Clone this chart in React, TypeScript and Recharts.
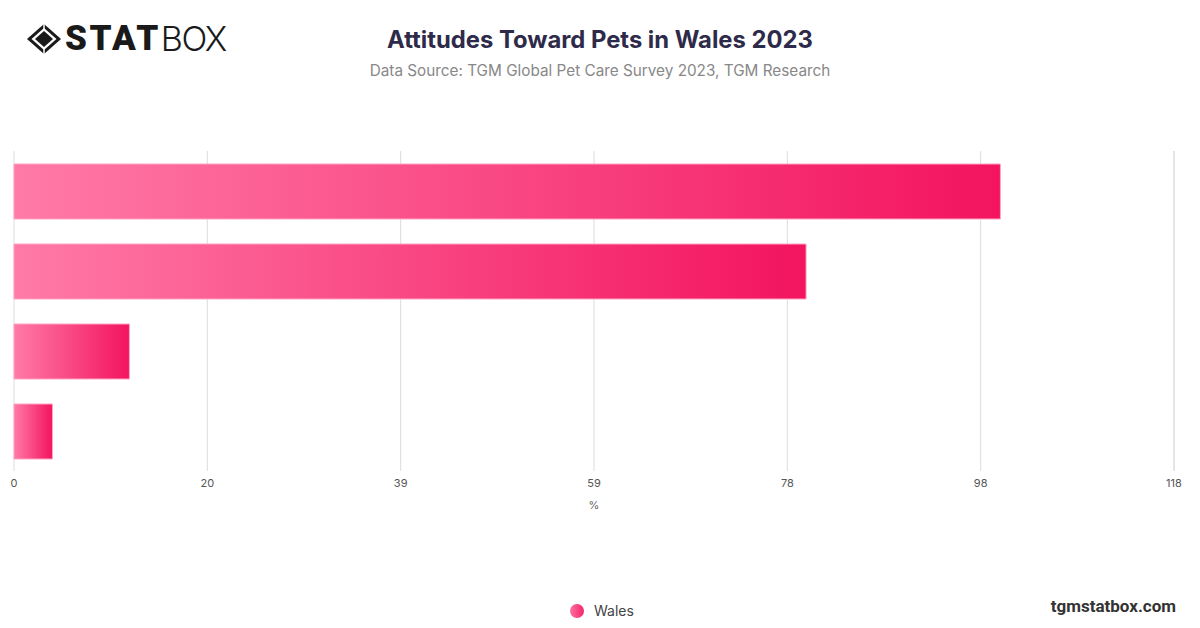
import React from "react";
import { BarChart, Bar, XAxis, YAxis, CartesianGrid } from "recharts";

const categories = ["Attitude A", "Attitude B", "Attitude C", "Attitude D"];
const walesValues = [100, 80.3, 11.7, 3.9];
const axisMax = 117.6;
const xTicks = [0, 1, 2, 3, 4, 5, 6].map((i) => (axisMax * i) / 6);
const seriesName = "Wales";

const data = categories.map((c, i) => ({ category: c, value: walesValues[i] }));

const Logo = () => (
  <div style={{ position: "absolute", left: 26, top: 22, display: "flex", alignItems: "center", height: 34 }}>
    <svg width="36" height="32" viewBox="0 0 36 32" style={{ display: "block" }}>
      <polygon points="18,1 35,16 18,31 1,16" fill="#1a1a1a" />
      <polygon points="18,5 30.5,16 18,27 5.5,16" fill="#ffffff" />
      <polygon points="18,8 27,16 18,24 9,16" fill="#1a1a1a" />
      <line x1="18" y1="1" x2="18" y2="6" stroke="#fff" strokeWidth="1.5" />
      <line x1="18" y1="26" x2="18" y2="31" stroke="#fff" strokeWidth="1.5" />
    </svg>
    <span style={{ fontFamily: "Roboto, Inter, sans-serif", fontWeight: 900, fontSize: 35, color: "#1a1a1a", marginLeft: 3, letterSpacing: 2.5, lineHeight: "34px" }}>STAT</span>
    <span style={{ fontFamily: "Inter, 'Open Sans', sans-serif", fontWeight: 300, fontSize: 34, color: "#1a1a1a", lineHeight: "34px", letterSpacing: -1.5 }}>BOX</span>
  </div>
);

export default function App() {
  return (
    <div style={{ position: "fixed", left: 0, top: 0, width: 1200, height: 628, background: "#fff", overflow: "hidden", fontFamily: "Inter, sans-serif" }}>
      <Logo />
      <div style={{ position: "absolute", left: 0, width: 1200, top: 24, textAlign: "center", fontFamily: "Inter, sans-serif", fontWeight: 700, fontSize: 23.8, lineHeight: "32px", color: "#2e2b4a" }}>
        Attitudes Toward Pets in Wales 2023
      </div>
      <div style={{ position: "absolute", left: 0, width: 1200, top: 61, textAlign: "center", fontFamily: "Inter, sans-serif", fontWeight: 400, fontSize: 15.3, lineHeight: "20px", color: "#888888" }}>
        Data Source: TGM Global Pet Care Survey 2023, TGM Research
      </div>
      <div style={{ position: "absolute", left: 0, top: 0 }}>
        <BarChart
          width={1200}
          height={628}
          data={data}
          layout="vertical"
          margin={{ top: 151, right: 26, bottom: 117, left: 14 }}
        >
          <defs>
            <linearGradient id="pinkGrad" x1="0" y1="0" x2="1" y2="0">
              <stop offset="0%" stopColor="#ff7aa7" />
              <stop offset="100%" stopColor="#f3145f" />
            </linearGradient>
          </defs>
          <CartesianGrid horizontal={false} stroke="#dcdcdc" strokeWidth={1} />
          <XAxis
            type="number"
            domain={[0, axisMax]}
            ticks={xTicks}
            tickFormatter={(v: number) => String(Math.round(v))}
            axisLine={false}
            tickLine={false}
            tick={{ fill: "#555", fontSize: 11, fontFamily: "Inter, sans-serif" }}
            height={40}
            interval={0}
            label={{ value: "%", position: "insideBottom", offset: 2, fill: "#666", fontSize: 11, fontFamily: "Inter, sans-serif" }}
          />
          <YAxis
            type="category"
            dataKey="category"
            width={0}
            tick={false}
            tickLine={false}
            axisLine={{ stroke: "#333", strokeWidth: 1 }}
          />
          <Bar
            dataKey="value"
            name={seriesName}
            fill="url(#pinkGrad)"
            stroke="#ffa3c4"
            strokeWidth={1}
            barSize={55}
            isAnimationActive={false}
          />
        </BarChart>
      </div>
      <div style={{ position: "absolute", left: 570, top: 604, width: 14, height: 14, borderRadius: 7, background: "linear-gradient(90deg,#ff6f9f,#f3266b)" }} />
      <div style={{ position: "absolute", left: 594, top: 602, fontFamily: "Inter, sans-serif", fontSize: 14, lineHeight: "18px", color: "#444" }}>{seriesName}</div>
      <div style={{ position: "absolute", right: 24, top: 596, fontFamily: "Roboto, sans-serif", fontWeight: 700, fontSize: 17, lineHeight: "20px", color: "#333" }}>tgmstatbox.com</div>
    </div>
  );
}
